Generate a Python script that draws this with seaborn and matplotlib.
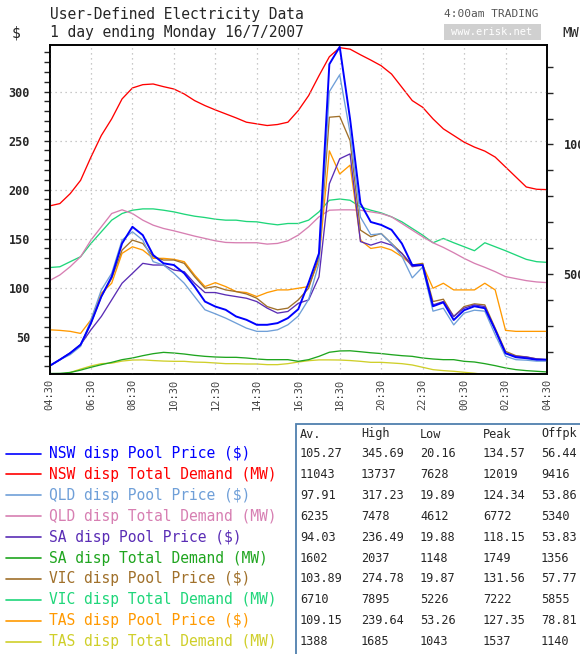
import matplotlib
matplotlib.use("Agg")
import matplotlib.pyplot as plt
import seaborn as sns
import pandas as pd
import numpy as np
from matplotlib.ticker import MultipleLocator
from matplotlib.lines import Line2D
from matplotlib.patches import Rectangle

# half-hourly values, 04:30 to 04:30 next day
tick_labels = ["04:30", "06:30", "08:30", "10:30", "12:30", "14:30", "16:30",
               "18:30", "20:30", "22:30", "00:30", "02:30", "04:30"]

nsw_price = [20.2, 26.5, 33.3, 41.8, 63.8, 90.9, 111.2, 145.1, 162.1, 153.6, 133.3, 124.8,
             123.1, 114.6, 101.1, 85.8, 80.7, 77.4, 70.6, 67.2, 62.1, 62.1, 63.8, 68.9,
             78.0, 105.0, 135.0, 328.0, 345.7, 272.0, 186.0, 167.0, 164.0, 159.0, 145.0, 123.0,
             123.0, 81.0, 85.0, 67.0, 77.0, 81.0, 79.0, 57.0, 33.0, 29.0, 28.0, 26.5, 26.5]
qld_price = [19.9, 26.5, 31.6, 40.1, 67.2, 97.7, 114.6, 148.5, 157.0, 148.5, 126.5, 123.1,
             114.6, 104.5, 90.9, 77.4, 73.3, 68.9, 63.8, 58.7, 55.4, 55.4, 57.0, 62.1,
             71.0, 88.0, 125.0, 300.0, 317.2, 258.0, 172.0, 154.0, 155.0, 145.0, 132.0, 110.0,
             121.0, 76.0, 79.0, 62.0, 74.0, 77.0, 76.0, 52.0, 30.0, 26.5, 26.0, 25.0, 25.0]
sa_price = [19.9, 26.5, 33.3, 41.8, 57.0, 70.6, 87.5, 104.5, 114.6, 124.8, 123.1, 123.1,
            118.0, 116.3, 104.5, 95.0, 95.0, 92.6, 90.9, 89.2, 85.8, 79.1, 74.0, 75.7,
            84.0, 87.5, 111.0, 206.0, 231.5, 236.5, 147.0, 143.4, 146.8, 143.4, 135.0, 121.4,
            123.0, 82.4, 85.8, 70.6, 79.1, 82.4, 80.7, 57.0, 33.3, 30.0, 29.3, 27.3, 26.5]
vic_price = [19.9, 26.5, 33.3, 41.8, 63.8, 90.9, 109.5, 138.3, 148.5, 145.1, 131.6, 128.2,
             128.2, 124.8, 111.2, 99.4, 101.1, 97.7, 96.0, 93.6, 89.2, 80.7, 77.4, 79.1,
             87.5, 99.4, 131.6, 273.9, 274.8, 250.0, 158.7, 151.9, 155.3, 145.1, 135.0, 123.1,
             124.8, 85.8, 88.2, 70.6, 80.7, 83.5, 82.4, 58.7, 35.0, 30.6, 29.3, 27.3, 26.5]
tas_price = [57.0, 56.4, 55.4, 53.3, 67.2, 94.3, 104.5, 135.0, 141.7, 138.4, 129.9, 129.9,
             128.9, 126.5, 112.9, 101.1, 105.1, 101.1, 96.0, 95.0, 90.9, 95.0, 97.7, 97.7,
             99.4, 101.1, 128.2, 239.6, 216.0, 225.0, 148.5, 140.0, 141.7, 138.4, 131.6, 123.1,
             123.1, 99.4, 104.5, 97.7, 97.7, 97.7, 104.5, 97.7, 56.4, 55.4, 55.4, 55.4, 55.4]

nsw_demand = [7628, 7719, 8104, 8617, 9514, 10348, 10989, 11758, 12181, 12309, 12335, 12232,
              12142, 11950, 11694, 11501, 11335, 11181, 11027, 10860, 10796, 10732, 10771, 10860,
              11309, 11886, 12655, 13386, 13737, 13680, 13463, 13258, 13040, 12719, 12207, 11694,
              11437, 10989, 10604, 10348, 10091, 9899, 9745, 9514, 9130, 8745, 8360, 8271, 8258]
qld_demand = [4745, 4963, 5284, 5668, 6309, 6822, 7335, 7478, 7335, 7079, 6886, 6758,
              6668, 6566, 6463, 6373, 6283, 6219, 6207, 6207, 6207, 6155, 6181, 6283,
              6502, 6822, 7207, 7463, 7478, 7478, 7463, 7399, 7335, 7207, 6950, 6694,
              6437, 6207, 6027, 5822, 5604, 5412, 5258, 5091, 4899, 4822, 4745, 4694, 4668]
sa_demand = [1160, 1165, 1200, 1290, 1400, 1500, 1590, 1694, 1758, 1848, 1925, 1976,
             1950, 1912, 1861, 1822, 1797, 1784, 1784, 1758, 1720, 1694, 1694, 1694,
             1630, 1694, 1822, 1980, 2030, 2037, 2000, 1960, 1930, 1886, 1848, 1822,
             1758, 1720, 1694, 1694, 1630, 1604, 1540, 1463, 1374, 1309, 1271, 1245, 1220]
vic_demand = [5250, 5280, 5476, 5668, 6181, 6630, 7079, 7335, 7463, 7514, 7514, 7463,
              7399, 7309, 7232, 7181, 7117, 7079, 7079, 7027, 7014, 6950, 6899, 6950,
              6950, 7079, 7399, 7848, 7895, 7848, 7591, 7463, 7360, 7207, 7014, 6758,
              6502, 6207, 6373, 6207, 6053, 5899, 6207, 6053, 5899, 5732, 5566, 5476, 5450]
tas_demand = [1100, 1120, 1200, 1330, 1450, 1540, 1560, 1640, 1680, 1685, 1660, 1640,
              1630, 1630, 1600, 1591, 1566, 1540, 1540, 1527, 1527, 1502, 1502, 1540,
              1604, 1655, 1685, 1685, 1680, 1660, 1630, 1591, 1591, 1566, 1540, 1489,
              1400, 1309, 1271, 1245, 1207, 1170, 1120, 1080, 1060, 1050, 1043, 1050, 1060]

legend_names = ["NSW disp Pool Price ($)", "NSW disp Total Demand (MW)",
                "QLD disp Pool Price ($)", "QLD disp Total Demand (MW)",
                "SA disp Pool Price ($)", "SA disp Total Demand (MW)",
                "VIC disp Pool Price ($)", "VIC disp Total Demand (MW)",
                "TAS disp Pool Price ($)", "TAS disp Total Demand (MW)"]
colors = ["#0000ff", "#ff0000", "#6f9fd8", "#d77fb2", "#5a2db5",
          "#1fa51f", "#a0702a", "#1fd67a", "#ff9900", "#cfcf2a"]

stat_cols = ["Av.", "High", "Low", "Peak", "Offpk"]
stat_av = ["105.27", "11043", "97.91", "6235", "94.03", "1602", "103.89", "6710", "109.15", "1388"]
stat_high = ["345.69", "13737", "317.23", "7478", "236.49", "2037", "274.78", "7895", "239.64", "1685"]
stat_low = ["20.16", "7628", "19.89", "4612", "19.88", "1148", "19.87", "5226", "53.26", "1043"]
stat_peak = ["134.57", "12019", "124.34", "6772", "118.15", "1749", "131.56", "7222", "127.35", "1537"]
stat_off = ["56.44", "9416", "53.86", "5340", "53.83", "1356", "57.77", "5855", "78.81", "1140"]

hours = np.arange(len(nsw_price)) * 0.5
df = pd.DataFrame({"hour": hours,
                   "nsw_p": nsw_price, "qld_p": qld_price, "sa_p": sa_price,
                   "vic_p": vic_price, "tas_p": tas_price,
                   "nsw_d": nsw_demand, "qld_d": qld_demand, "sa_d": sa_demand,
                   "vic_d": vic_demand, "tas_d": tas_demand})

sns.set_style("white")
mono = "DejaVu Sans Mono"
plt.rcParams["font.family"] = [mono]

W, H = 580, 654
fig = plt.figure(figsize=(W / 100, H / 100), dpi=100)


def fx(x):
    return x / W


def fy(y):
    return 1 - y / H


ax = fig.add_axes([fx(49.5), fy(373.5), fx(547 - 49.5), (373.5 - 45) / H])
ax2 = ax.twinx()

# demand lines on right axis
for col, c in zip(["tas_d", "vic_d", "sa_d", "qld_d", "nsw_d"],
                  [colors[9], colors[7], colors[5], colors[3], colors[1]]):
    sns.lineplot(data=df, x="hour", y=col, ax=ax2, color=c, lw=0.95)

# prices on left axis, drawn on top
for col, c, lw in zip(["tas_p", "vic_p", "sa_p", "qld_p", "nsw_p"],
                      [colors[8], colors[6], colors[4], colors[2], colors[0]],
                      [0.95, 0.95, 0.95, 0.95, 1.4]):
    sns.lineplot(data=df, x="hour", y=col, ax=ax, color=c, lw=lw)

ax.set_zorder(ax2.get_zorder() + 1)
ax.patch.set_visible(False)

ax.set_xlim(0, 24)
ax.set_ylim(12.4, 347.6)
ax2.set_ylim(1160, 13840)
ax.set_xlabel("")
ax.set_ylabel("")
ax2.set_ylabel("")

ax.set_xticks(np.arange(0, 25, 2))
ax.set_xticklabels(tick_labels, rotation=90, fontsize=7.5, color="#444444")
ax.tick_params(axis="x", length=0, pad=4)

ax.yaxis.set_major_locator(MultipleLocator(50))
ax.yaxis.set_minor_locator(MultipleLocator(10))
ax.tick_params(axis="y", which="both", direction="out", length=4, width=1,
               left=True, labelsize=8.5, pad=10)
for lab in ax.get_yticklabels():
    lab.set_fontweight("bold")

# right labels run off the figure edge, as in the original
ax2.yaxis.set_major_locator(MultipleLocator(5000))
ax2.yaxis.set_minor_locator(MultipleLocator(1000))
ax2.tick_params(axis="y", which="both", direction="out", length=4, width=1,
                right=True, labelsize=8.5, pad=8)
for lab in ax2.get_yticklabels():
    lab.set_fontweight("bold")

ax.grid(True, which="major", color="#b8b8b8", linestyle=(0, (1, 3)), lw=0.9)
for a in (ax, ax2):
    for s in a.spines.values():
        s.set_color("black")
        s.set_linewidth(1.2)

# header texts
fig.text(fx(50), fy(14), "User-Defined Electricity Data", fontsize=10.5, va="center")
fig.text(fx(50), fy(33), "1 day ending Monday 16/7/2007", fontsize=10.5, va="center")
fig.text(fx(12), fy(33), "$", fontsize=10.5, va="center")
fig.text(fx(562), fy(33), "MW", fontsize=10, va="center")
fig.text(fx(538), fy(14), "4:00am TRADING", fontsize=8, va="center", ha="right", color="#555555")
fig.add_artist(Rectangle((fx(444), fy(40)), fx(97), 16 / H, transform=fig.transFigure,
                         facecolor="#d0d0d0", edgecolor="none"))
fig.text(fx(492), fy(32), "www.erisk.net", fontsize=7.5, va="center", ha="center", color="white")

# legend
row_y = [453.5, 474.4, 495.3, 516.2, 537.1, 558.0, 578.9, 599.8, 620.7, 641.6]
for name, c, y in zip(legend_names, colors, row_y):
    fig.add_artist(Line2D([fx(6), fx(41)], [fy(y), fy(y)], transform=fig.transFigure,
                          color=c, lw=1.2))
    fig.text(fx(49), fy(y), name, color=c, fontsize=10.5, va="center")

# stats table
fig.add_artist(Rectangle((fx(296), fy(660)), fx(300), (660 - 424) / H, transform=fig.transFigure,
                         facecolor="white", edgecolor="#4f7fae", lw=1.3))
col_x = [300, 361, 420, 483, 541]
for name, x in zip(stat_cols, col_x):
    fig.text(fx(x), fy(434), name, fontsize=8.6, va="center")
for col, x in zip([stat_av, stat_high, stat_low, stat_peak, stat_off], col_x):
    for v, y in zip(col, row_y):
        fig.text(fx(x), fy(y), v, fontsize=8.6, va="center")

fig.savefig("out.png", dpi=100)
